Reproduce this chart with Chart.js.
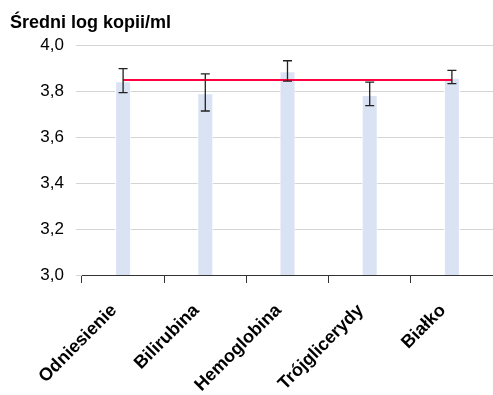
<!DOCTYPE html>
<html>
<head>
<meta charset="utf-8">
<script src="https://cdn.jsdelivr.net/npm/chart.js@4"></script>
<style>
  html, body { margin: 0; padding: 0; background: #fff; }
  #wrap { width: 493px; height: 395px; }
</style>
</head>
<body>
<div id="wrap"><canvas id="Chart-1"></canvas></div>
<script>
const categories = ['Odniesienie', 'Bilirubina', 'Hemoglobina', 'Trójglicerydy', 'Białko'];
const means = [3.845, 3.792, 3.888, 3.785, 3.86];
const errLow = [3.795, 3.715, 3.845, 3.738, 3.834];
const errHigh = [3.900, 3.877, 3.934, 3.841, 3.892];
const refLine = [3.85, 3.85, 3.85, 3.85, 3.85];
const yTickLabels = ['3,0', '3,2', '3,4', '3,6', '3,8', '4,0'];

const FONT = "'Liberation Sans', Arial, sans-serif";

// draws the whiskers on top of the bars
const errorBars = {
  id: 'errorBars',
  afterDatasetsDraw(chart) {
    const meta = chart.getDatasetMeta(0);
    const y = chart.scales.y;
    const c = chart.ctx;
    c.save();
    c.strokeStyle = '#222';
    c.lineWidth = 1.3;
    meta.data.forEach((bar, i) => {
      const top = y.getPixelForValue(errHigh[i]);
      const bot = y.getPixelForValue(errLow[i]);
      c.beginPath();
      c.moveTo(bar.x, top); c.lineTo(bar.x, bot);
      c.moveTo(bar.x - 4.5, top); c.lineTo(bar.x + 4.5, top);
      c.moveTo(bar.x - 4.5, bot); c.lineTo(bar.x + 4.5, bot);
      c.stroke();
    });
    c.restore();
  }
};

const ctx1 = document.getElementById('Chart-1');

new Chart(ctx1, {
  type: 'bar',
  data: {
    labels: categories,
    datasets: [{
      label: 'Średni log kopii/ml',
      data: means,
      backgroundColor: '#dae3f3',
      borderColor: '#ffffff',
      borderWidth: 1,
      barPercentage: 0.195,
      categoryPercentage: 1,
      order: 2
    }, {
      type: 'line',
      label: 'Odniesienie',
      data: refLine,
      borderColor: '#ff0040',
      borderWidth: 2,
      pointRadius: 0,
      order: 1
    }]
  },
  options: {
    responsive: true,
    maintainAspectRatio: false,
    animation: false,
    layout: { padding: { left: 10, right: 0, top: 0, bottom: 0 } },
    plugins: {
      legend: { display: false },
      tooltip: { enabled: false },
      title: {
        display: true,
        text: 'Średni log kopii/ml',
        align: 'start',
        color: '#000',
        font: { family: FONT, size: 18, weight: 'bold' },
        padding: { top: 12, bottom: 12 }
      }
    },
    scales: {
      x: {
        grid: { offset: true, drawOnChartArea: false, color: '#333', tickLength: 8 },
        border: { display: true, color: '#333', width: 1 },
        ticks: {
          color: '#000',
          font: { family: FONT, size: 18, weight: 'bold' },
          maxRotation: 45,
          minRotation: 45,
          padding: 17,
          labelOffset: -9
        },
        afterFit(scale) { scale.height = 120; }
      },
      y: {
        min: 3,
        max: 4,
        grid: { color: '#d4d4d4', tickLength: 6 },
        border: { display: false },
        ticks: {
          stepSize: 0.2,
          padding: 12,
          color: '#000',
          font: { family: FONT, size: 17 },
          callback: (v, i) => yTickLabels[i]
        },
        afterFit(scale) { scale.width = 72; }
      }
    }
  },
  plugins: [errorBars]
});
</script>
</body>
</html>
